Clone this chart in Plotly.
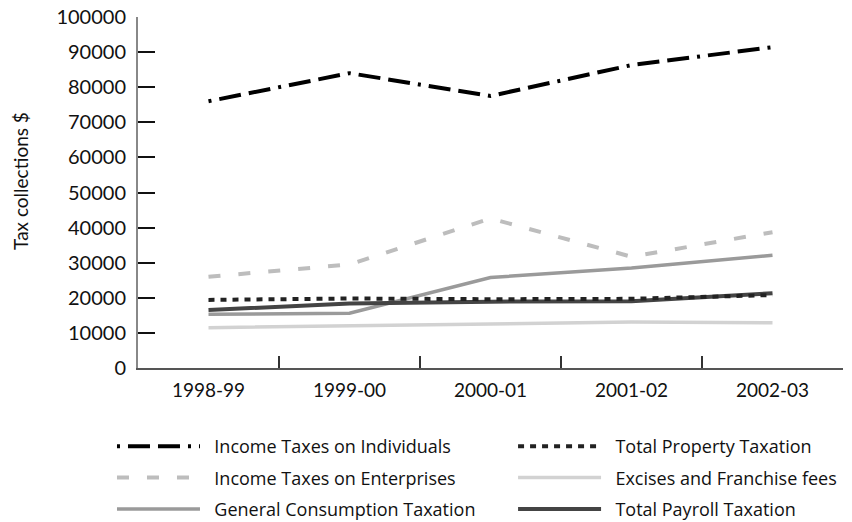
import plotly.graph_objects as go

years = ["1998-99", "1999-00", "2000-01", "2001-02", "2002-03"]

individuals = [76000, 84000, 77500, 86300, 91400]
enterprises = [26000, 29500, 42600, 31700, 38700]
consumption = [15300, 15600, 25800, 28500, 32100]
property_tax = [19400, 19800, 19600, 19700, 20800]
excises = [11500, 12100, 12700, 13100, 12900]
payroll = [16500, 18400, 18900, 19000, 21300]

y_title = "Tax collections $"

series = [
    # name, values, colour, width, dash, legend, rank
    ("Income Taxes on Individuals", individuals, "#000000", 4, "3px,8px,22px,8px,22px,8px", "legend", 1),
    ("Income Taxes on Enterprises", enterprises, "#bdbdbd", 4, "12px,18px", "legend", 2),
    ("General Consumption Taxation", consumption, "#9a9a9a", 3.5, "solid", "legend", 3),
    ("Excises and Franchise fees", excises, "#d2d2d2", 3.5, "solid", "legend2", 2),
    ("Total Payroll Taxation", payroll, "#444444", 4, "solid", "legend2", 3),
    ("Total Property Taxation", property_tax, "#222222", 4, "6px,6px", "legend2", 1),
]

pad = "\u00a0\u00a0"

fig = go.Figure()
for name, vals, color, width, dash, leg, rank in series:
    fig.add_trace(go.Scatter(
        x=years, y=vals, mode="lines", name=pad + name,
        line=dict(color=color, width=width, dash=dash),
        legend=leg, legendrank=rank, legendgroup=name,
    ))

font = "Lato, 'Noto Sans', sans-serif"
legend_style = dict(
    orientation="v", xanchor="left", yanchor="top",
    font=dict(family="'Open Sans', sans-serif", size=18, color="#111"),
    itemwidth=83, tracegroupgap=5, bgcolor="rgba(0,0,0,0)",
    itemclick=False, itemdoubleclick=False,
)

fig.update_layout(
    width=852, height=522,
    margin=dict(l=138, r=9, t=17, b=154, autoexpand=False),
    plot_bgcolor="white", paper_bgcolor="white",
    font=dict(family=font, size=19, color="#111"),
    legend=dict(x=-0.0369, y=-0.1710, **legend_style),
    legend2=dict(x=0.532, y=-0.1710, **legend_style),
    xaxis=dict(
        type="category", range=[-0.5, 4.5], tickson="boundaries",
        ticks="inside", ticklen=12, tickwidth=1.5, tickcolor="#333",
        showline=True, linecolor="#555", linewidth=2,
        showgrid=False, zeroline=False, ticklabelstandoff=4,
        tickfont=dict(size=19), automargin=False,
    ),
    yaxis=dict(
        range=[0, 100000], tickvals=list(range(0, 100001, 10000)),
        tickformat="d",
        ticks="inside", ticklen=17, tickwidth=2, tickcolor="#111",
        showline=True, linecolor="#888", linewidth=2,
        showgrid=False, zeroline=False, ticklabelstandoff=6,
        tickfont=dict(size=20), automargin=False,
    ),
    annotations=[dict(
        text=y_title, textangle=-90, showarrow=False,
        xref="paper", yref="paper", x=-0.166, y=0.533,
        xanchor="center", yanchor="middle",
        font=dict(family=font, size=19, color="#111"),
    )],
)

fig.write_html("out.html")
